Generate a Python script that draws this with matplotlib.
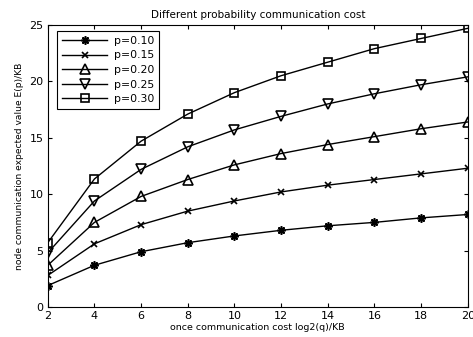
import matplotlib
matplotlib.use("Agg")
import matplotlib.pyplot as plt

plt.rcParams['font.family'] = ['DejaVu Sans']

x = [2, 4, 6, 8, 10, 12, 14, 16, 18, 20]
p010 = [1.9, 3.7, 4.9, 5.7, 6.3, 6.8, 7.2, 7.5, 7.9, 8.2]
p015 = [2.8, 5.6, 7.3, 8.5, 9.4, 10.2, 10.8, 11.3, 11.8, 12.3]
p020 = [3.7, 7.5, 9.8, 11.3, 12.6, 13.6, 14.4, 15.1, 15.8, 16.4]
p025 = [4.8, 9.4, 12.2, 14.2, 15.7, 16.9, 18.0, 18.9, 19.7, 20.4]
p030 = [5.7, 11.35, 14.7, 17.1, 19.0, 20.5, 21.7, 22.9, 23.8, 24.7]

# marker, size, label
series = [
    (p010, (8, 2, 0), 6, 'p=0.10'),
    (p015, 'x', 5, 'p=0.15'),
    (p020, '^', 6.5, 'p=0.20'),
    (p025, 'v', 6.5, 'p=0.25'),
    (p030, 's', 6, 'p=0.30'),
]

fig = plt.figure(figsize=(4.73, 3.37), dpi=100)
ax = fig.add_axes([0.101, 0.089, 0.888, 0.837])

for ys, m, ms, lab in series:
    ax.plot(x, ys, color='black', linewidth=1.0, marker=m,
            markersize=ms, markerfacecolor='none', markeredgecolor='black',
            markeredgewidth=1.2, label=lab)

ax.set_xlim(2, 20)
ax.set_ylim(0, 25)
ax.set_xticks(range(2, 21, 2))
ax.set_yticks([0, 5, 10, 15, 20, 25])
ax.tick_params(direction='in', top=True, right=True, labelsize=8, length=3, pad=3)
for s in ax.spines.values():
    s.set_linewidth(0.8)

ax.set_title('Different probability communication cost', fontsize=7.5, pad=5)
ax.set_xlabel('once communication cost log2(q)/KB', fontsize=6.8, labelpad=1)
ax.set_ylabel('node communication expected value E(p)/KB', fontsize=6.6, labelpad=4)

leg = ax.legend(loc='upper left', bbox_to_anchor=(57 / 473, 1 - 31 / 337),
                bbox_transform=fig.transFigure, borderaxespad=0,
                fontsize=7.8, handlelength=4.2, borderpad=0.45,
                fancybox=False, framealpha=1, edgecolor='black',
                labelspacing=0.42, handletextpad=0.6)
leg.get_frame().set_linewidth(0.8)

plt.savefig('out.png', dpi=100)
